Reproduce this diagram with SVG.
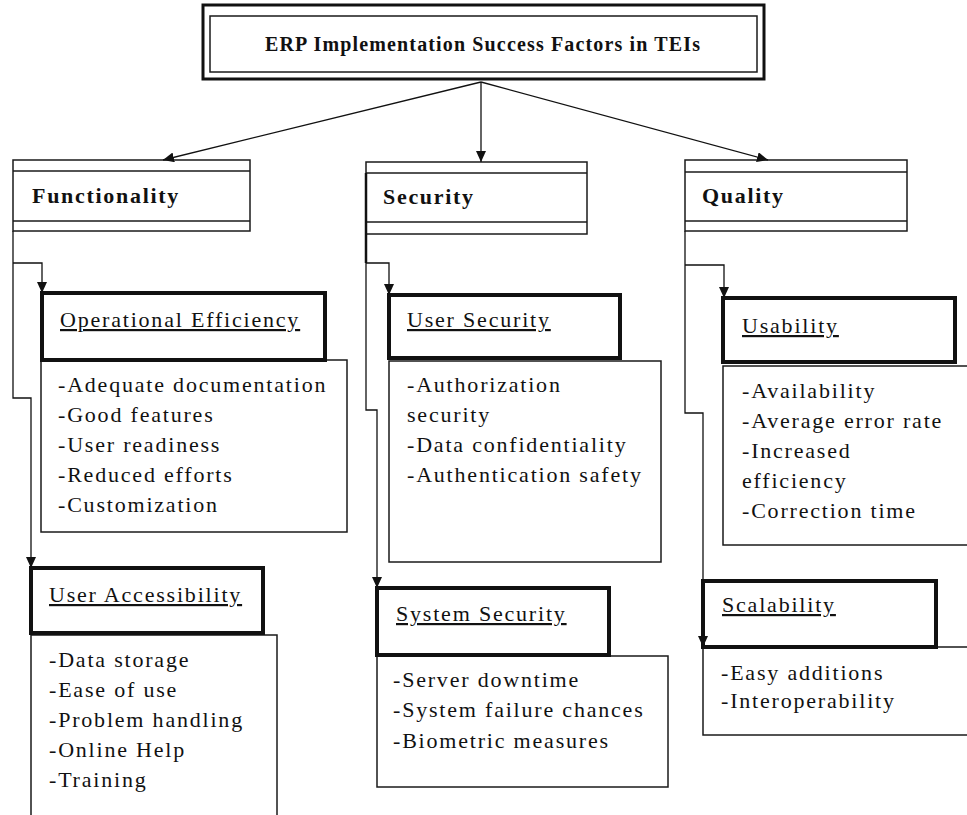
<svg xmlns="http://www.w3.org/2000/svg" width="967" height="815" viewBox="0 0 967 815">
<defs>
<marker id="arr" markerUnits="userSpaceOnUse" markerWidth="12" markerHeight="10" refX="11" refY="5" orient="auto">
<path d="M0,0 L11,5 L0,10 Z" fill="#111"/>
</marker>
<style>
.t{font-family:"Liberation Serif","Times New Roman",serif;fill:#111;}
.title{font-size:20px;font-weight:bold;}
.cat{font-size:22px;font-weight:bold;letter-spacing:1.7px;}
.hd{font-size:22px;letter-spacing:1.8px;text-decoration:underline;}
.it{font-size:22px;letter-spacing:1.8px;}
.thin{fill:#fff;stroke:#1a1a1a;stroke-width:1.5;}
.thick{fill:#fff;stroke:#111;stroke-width:4;}
.con{fill:none;stroke:#111;stroke-width:1.3;}
</style>
</defs>
<rect width="967" height="815" fill="#fff"/>

<g id="title">
<rect x="203" y="5" width="561" height="74" fill="#fff" stroke="#111" stroke-width="3"/>
<rect x="210" y="16" width="547" height="56" fill="none" stroke="#1a1a1a" stroke-width="1.5"/>
<text class="t title" x="265" y="51" textLength="435" lengthAdjust="spacing">ERP Implementation Success Factors in TEIs</text>
</g>

<g id="functionality">
<rect class="thin" x="13" y="160" width="237" height="71"/>
<line x1="13" y1="171" x2="250" y2="171" stroke="#1a1a1a" stroke-width="1.5"/>
<line x1="13" y1="221" x2="250" y2="221" stroke="#1a1a1a" stroke-width="1.5"/>
<text class="t cat" x="32" y="203">Functionality</text>
</g>

<g id="security">
<rect class="thin" x="366" y="162" width="221" height="72"/>
<line x1="366" y1="173" x2="587" y2="173" stroke="#1a1a1a" stroke-width="1.5"/>
<line x1="366" y1="222" x2="587" y2="222" stroke="#1a1a1a" stroke-width="1.5"/>
<text class="t cat" x="383" y="204">Security</text>
</g>

<g id="quality">
<rect class="thin" x="685" y="160" width="222" height="71"/>
<line x1="685" y1="172" x2="907" y2="172" stroke="#1a1a1a" stroke-width="1.5"/>
<line x1="685" y1="221" x2="907" y2="221" stroke="#1a1a1a" stroke-width="1.5"/>
<text class="t cat" x="702" y="203">Quality</text>
</g>

<g id="operational-efficiency">
<rect class="thin" x="41" y="360" width="306" height="172"/>
<rect class="thick" x="42" y="293" width="283" height="67"/>
<text class="t hd" x="60" y="327">Operational Efficiency</text>
<text class="t it" x="58" y="392">-Adequate documentation</text>
<text class="t it" x="58" y="422">-Good features</text>
<text class="t it" x="58" y="452">-User readiness</text>
<text class="t it" x="58" y="482">-Reduced efforts</text>
<text class="t it" x="58" y="512">-Customization</text>
</g>

<g id="user-accessibility">
<rect class="thin" x="31" y="635" width="246" height="200"/>
<rect class="thick" x="31" y="568" width="232" height="65"/>
<text class="t hd" x="49" y="602">User Accessibility</text>
<text class="t it" x="49" y="667">-Data storage</text>
<text class="t it" x="49" y="697">-Ease of use</text>
<text class="t it" x="49" y="727">-Problem handling</text>
<text class="t it" x="49" y="757">-Online Help</text>
<text class="t it" x="49" y="787">-Training</text>
</g>

<g id="user-security">
<rect class="thin" x="389" y="361" width="272" height="201"/>
<rect class="thick" x="389" y="295" width="231" height="63"/>
<text class="t hd" x="407" y="327">User Security</text>
<text class="t it" x="407" y="392">-Authorization</text>
<text class="t it" x="407" y="422">security</text>
<text class="t it" x="407" y="452">-Data confidentiality</text>
<text class="t it" x="407" y="482">-Authentication safety</text>
</g>

<g id="system-security">
<rect class="thin" x="377" y="656" width="291" height="131"/>
<rect class="thick" x="377" y="588" width="232" height="67"/>
<text class="t hd" x="396" y="621">System Security</text>
<text class="t it" x="393" y="687">-Server downtime</text>
<text class="t it" x="393" y="717">-System failure chances</text>
<text class="t it" x="393" y="748">-Biometric measures</text>
</g>

<g id="usability">
<rect class="thin" x="723" y="366" width="250" height="179"/>
<rect class="thick" x="723" y="298" width="232" height="64"/>
<text class="t hd" x="742" y="333">Usability</text>
<text class="t it" x="742" y="398">-Availability</text>
<text class="t it" x="742" y="428">-Average error rate</text>
<text class="t it" x="742" y="458">-Increased</text>
<text class="t it" x="742" y="488">efficiency</text>
<text class="t it" x="742" y="518">-Correction time</text>
</g>

<g id="scalability">
<rect class="thin" x="703" y="647" width="270" height="88"/>
<rect class="thick" x="703" y="581" width="233" height="66"/>
<text class="t hd" x="722" y="612">Scalability</text>
<text class="t it" x="721" y="680">-Easy additions</text>
<text class="t it" x="721" y="708">-Interoperability</text>
</g>

<g id="connectors">
<line class="con" x1="481" y1="82" x2="163" y2="160" marker-end="url(#arr)"/>
<line class="con" x1="481" y1="82" x2="481" y2="162" marker-end="url(#arr)"/>
<line class="con" x1="481" y1="82" x2="768" y2="160" marker-end="url(#arr)"/>
<path class="con" d="M13,231 V398 H31 V568" marker-end="url(#arr)"/>
<path class="con" d="M13,263 H42 V293" marker-end="url(#arr)"/>
<path d="M366,173 V263" fill="none" stroke="#111" stroke-width="2.5"/>
<path class="con" d="M366,263 V410 H377 V588" marker-end="url(#arr)"/>
<path class="con" d="M366,263 H389 V295" marker-end="url(#arr)"/>
<path class="con" d="M685,231 V413 H703 V647" marker-end="url(#arr)"/>
<path class="con" d="M685,265 H724 V298" marker-end="url(#arr)"/>
</g>
</svg>
